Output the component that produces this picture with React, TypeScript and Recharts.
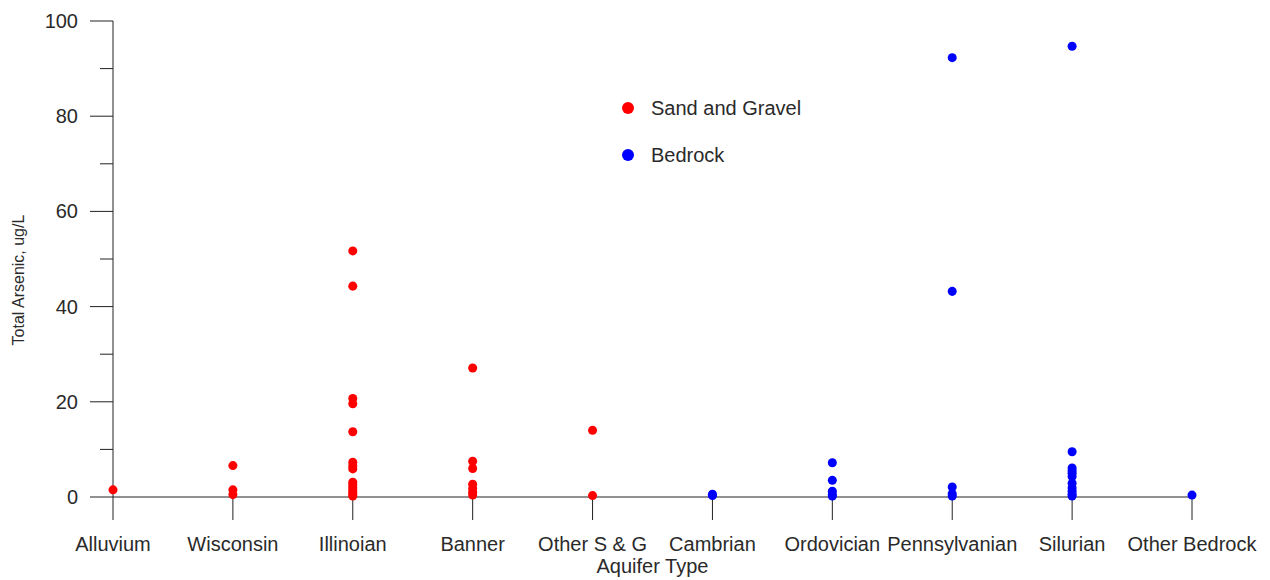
import React from 'react';
import { ScatterChart, Scatter, XAxis, YAxis, ZAxis, Legend } from 'recharts';

const categories = ['Alluvium', 'Wisconsin', 'Illinoian', 'Banner', 'Other S & G', 'Cambrian', 'Ordovician', 'Pennsylvanian', 'Silurian', 'Other Bedrock'];
const seriesNames = ['Sand and Gravel', 'Bedrock'];

const alluvium = [1.5];
const wisconsin = [6.6, 1.5, 0.5];
const illinoian = [51.7, 44.3, 20.7, 19.6, 13.7, 7.3, 6.5, 5.9, 3.1, 2.5, 2.0, 1.5, 1.0, 0.5, 0.2];
const banner = [27.1, 7.5, 6.0, 2.7, 1.8, 1.0, 0.4];
const otherSG = [14.0, 0.3];
const cambrian = [0.6, 0.3];
const ordovician = [7.2, 3.5, 1.2, 0.5, 0.2];
const pennsylvanian = [92.3, 43.2, 2.1, 0.7, 0.2];
const silurian = [94.7, 9.5, 6.1, 5.5, 5.0, 4.3, 2.9, 1.9, 1.2, 0.6, 0.2];
const otherBedrock = [0.4];

const yMajorTicks = [0, 20, 40, 60, 80, 100];
const yAllTicks = [0, 10, 20, 30, 40, 50, 60, 70, 80, 90, 100];

const sandGroups = [alluvium, wisconsin, illinoian, banner, otherSG];
const bedrockGroups = [cambrian, ordovician, pennsylvanian, silurian, otherBedrock];

const sandData = sandGroups.flatMap((vals, i) => vals.map((v) => ({ x: i, y: v })));
const bedrockData = bedrockGroups.flatMap((vals, i) => vals.map((v) => ({ x: i + 5, y: v })));

const FONT = '"Liberation Sans", Arial, sans-serif';
const TEXT = '#2a2a2a';
const LINE = '#222';

const YTick = (props: any) => {
  const { x, y, payload } = props;
  const axisX = x + 23 + 12;
  const major = yMajorTicks.includes(payload.value);
  return (
    <g>
      <line x1={axisX - (major ? 23 : 13)} x2={axisX} y1={y} y2={y} stroke={LINE} strokeWidth={1} />
      {major && (
        <text x={x} y={y} dy={7} textAnchor="end" fontSize={20} fontFamily={FONT} fill={TEXT}>
          {payload.value}
        </text>
      )}
    </g>
  );
};

const LegendContent = (props: any) => {
  const payload = [...(props.payload || [])].sort(
    (a: any, b: any) => seriesNames.indexOf(a.value) - seriesNames.indexOf(b.value)
  );
  return (
    <svg width={220} height={80} style={{ overflow: 'visible', display: 'block' }}>
      {payload.map((p: any, i: number) => (
        <g key={i} transform={`translate(0, ${i * 47})`}>
          <circle cx={10} cy={16} r={6} fill={p.color} />
          <text x={33} y={23} fontSize={20} fontFamily={FONT} fill={TEXT}>
            {p.value}
          </text>
        </g>
      ))}
    </svg>
  );
};

export default function App() {
  return (
    <div style={{ position: 'absolute', left: 0, top: 0, background: '#fff' }}>
      <ScatterChart width={1270} height={580} margin={{ top: 21, right: 78, left: 0, bottom: 0 }}>
        <XAxis
          type="number"
          dataKey="x"
          domain={[0, 9]}
          ticks={categories.map((_, i) => i)}
          tickFormatter={(v: number) => categories[v]}
          interval={0}
          height={83}
          tickSize={23}
          tickMargin={17}
          stroke={LINE}
          tick={{ fill: TEXT, fontSize: 20, fontFamily: FONT }}
          label={{ value: 'Aquifer Type', position: 'insideBottom', offset: 7, fill: TEXT, fontSize: 20, fontFamily: FONT }}
        />
        <YAxis
          type="number"
          dataKey="y"
          domain={[0, 100]}
          ticks={yAllTicks}
          interval={0}
          width={113}
          tickSize={23}
          tickMargin={12}
          tickLine={false}
          stroke={LINE}
          tick={<YTick />}
          label={() => (
            <text
              x={18}
              y={280}
              transform="rotate(-90, 18, 280)"
              textAnchor="middle"
              dominantBaseline="central"
              fontSize={16}
              fontFamily={FONT}
              fill={TEXT}
            >
              Total Arsenic, ug/L
            </text>
          )}
        />
        <ZAxis range={[58, 58]} />
        <Legend
          layout="vertical"
          verticalAlign="middle"
          align="center"
          content={<LegendContent />}
          wrapperStyle={{ left: 618, top: 92, width: 220, height: 80 }}
        />
        <Scatter name="Sand and Gravel" data={sandData} fill="#ff0000" isAnimationActive={false} />
        <Scatter name="Bedrock" data={bedrockData} fill="#0000ff" isAnimationActive={false} />
      </ScatterChart>
    </div>
  );
}
